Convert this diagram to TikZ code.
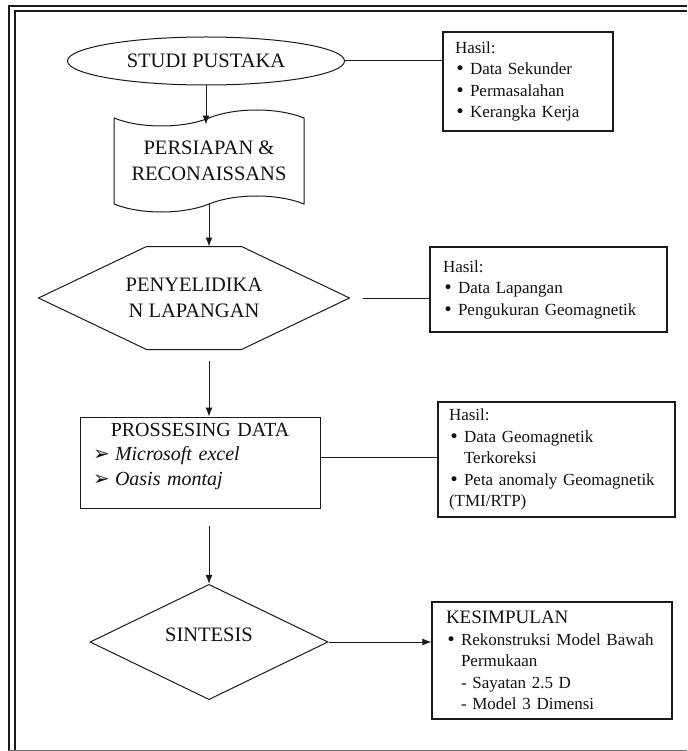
\documentclass[tikz,border=0pt]{standalone}
\usepackage{fontspec}
\setmainfont{Liberation Serif}
\newfontfamily\arrowfont{DejaVu Sans}
\usepackage{xcolor}
\usetikzlibrary{arrows.meta,shapes.geometric,shapes.symbols}
\definecolor{LineColor}{HTML}{1A1A1A}
\definecolor{FrameGray}{HTML}{6E6E6E}
\definecolor{TextColor}{HTML}{111111}
\newcommand{\hasilitem}[1]{\makebox[15pt][l]{\arrowfont •}#1}
\newcommand{\hangline}[1]{\hspace*{15pt}#1}
\newcommand{\softitem}[1]{\makebox[22pt][l]{\arrowfont\fontsize{20}{20}\selectfont ➢}\textit{#1}}

\begin{document}
\begin{tikzpicture}[x=1pt,y=-1pt,
	bigfont/.style={font=\fontsize{20.5}{26}\selectfont},
	smallfont/.style={font=\fontsize{17}{21.5}\selectfont},
	flowline/.style={line width=1pt, draw=LineColor},
	flowarrow/.style={flowline, -{Latex[length=9pt,width=7pt]}},
	stepshape/.style={draw=LineColor, line width=1pt, text=TextColor, bigfont, align=center, inner sep=0pt},
	hasilbox/.style={draw=LineColor, line width=1.2pt, text=TextColor, smallfont, align=left, inner ysep=0pt}]
	\useasboundingbox (0,0) rectangle (687,751);
	\fill[white] (0,0) rectangle (687,751);

	% Page frame
	\draw[line width=1.6pt, draw=LineColor] (9,751) -- (9,6) -- (687,6);
	\draw[line width=1.2pt, draw=LineColor] (15,751) -- (15,11) -- (687,11);
	\draw[line width=1pt, draw=FrameGray] (9,750) -- (687,750);

	% Main steps
	\node[stepshape, ellipse, minimum width=277, minimum height=48] (studi) at (206,61) {STUDI PUSTAKA};
	\node[stepshape, tape, minimum width=190, minimum height=102, tape bend height=16] (persiapan) at (209,161) {PERSIAPAN \&\\RECONAISSANS};
	\node[stepshape, draw=none, minimum width=310, minimum height=102] (penyelidikan) at (194,298) {PENYELIDIKA\\N LAPANGAN};
	\draw[flowline] (penyelidikan.west) -- ([xshift=108pt]penyelidikan.north west) -- ([xshift=-108pt]penyelidikan.north east)
		-- (penyelidikan.east) -- ([xshift=-108pt]penyelidikan.south east) -- ([xshift=108pt]penyelidikan.south west) -- cycle;
	\node[stepshape, rectangle, minimum width=240, minimum height=91, text width=214, inner xsep=13, align=left, font=\fontsize{20}{24.5}\selectfont, text depth=66pt] (prosesing) at (200,462.5) {%
		\makebox[214pt]{PROSSESING DATA}\\
		\softitem{Microsoft excel}\\
		\softitem{Oasis montaj}};
	\node[stepshape, diamond, minimum width=238, minimum height=80, text depth=14pt] (sintesis) at (209,642) {SINTESIS};

	% Result boxes
	\node[hasilbox, minimum width=170, minimum height=99, text width=146, inner xsep=12] (hasil1) at (528,81.5) {%
		Hasil:\\
		\hasilitem{Data Sekunder}\\
		\hasilitem{Permasalahan}\\
		\hasilitem{Kerangka Kerja}};
	\node[hasilbox, minimum width=237, minimum height=85, text width=211, inner xsep=13] (hasil2) at (548.5,289.5) {%
		Hasil:\\
		\hasilitem{Data Lapangan}\\
		\hasilitem{Pengukuran Geomagnetik}};
	\node[hasilbox, minimum width=237, minimum height=115, text width=215, inner xsep=11] (hasil3) at (556.5,459.5) {%
		Hasil:\\
		\hasilitem{Data Geomagnetik}\\
		\hangline{Terkoreksi}\\
		\hasilitem{Peta anomaly Geomagnetik}\\
		(TMI/RTP)};
	\node[hasilbox, minimum width=240, minimum height=117, text width=212, inner xsep=14] (kesimpulan) at (552,660.5) {%
		{\fontsize{19}{24}\selectfont KESIMPULAN}\\
		\hasilitem{Rekonstruksi Model Bawah}\\
		\hangline{Permukaan}\\
		\hangline{- Sayatan 2.5 D}\\
		\hangline{- Model 3 Dimensi}};

	% Connectors
	\draw[flowline] (studi.east) -- (studi.east -| hasil1.west);
	\draw[flowarrow] (studi.south) -- ([yshift=-7pt]studi.south |- persiapan.north);
	\draw[flowarrow] (persiapan.south) -- (persiapan.south |- penyelidikan.north);
	\draw[flowline, shorten <=13pt] (penyelidikan.east) -- (penyelidikan.east -| hasil2.west);
	\draw[flowarrow, shorten <=11pt] (persiapan.south |- penyelidikan.south) -- (persiapan.south |- prosesing.north);
	\draw[flowline] ([yshift=5pt]prosesing.east) -- ([yshift=5pt]prosesing.east -| hasil3.west);
	\draw[flowarrow, shorten <=17pt] (persiapan.south |- prosesing.south) -- (sintesis.north);
	\draw[flowarrow] (sintesis.east) -- (sintesis.east -| kesimpulan.west);
\end{tikzpicture}
\end{document}
